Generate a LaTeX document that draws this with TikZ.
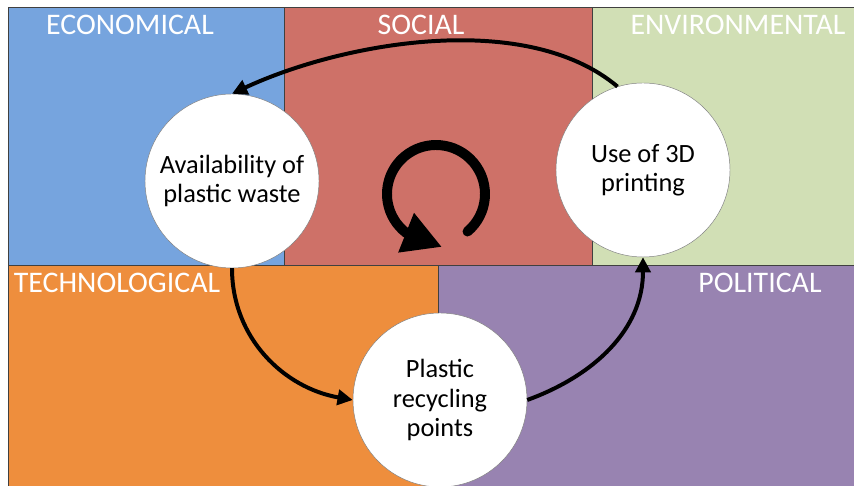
\documentclass[tikz,border=0pt]{standalone}
\usepackage{fontspec}
\setmainfont{Carlito}
\usetikzlibrary{positioning,arrows.meta}

\definecolor{econblue}{RGB}{118,164,222}
\definecolor{socred}{RGB}{206,113,104}
\definecolor{envgreen}{RGB}{209,223,181}
\definecolor{techorange}{RGB}{238,142,61}
\definecolor{polpurple}{RGB}{152,131,177}
\definecolor{edgegray}{RGB}{64,64,64}

\begin{document}
\begin{tikzpicture}[
        x=0.03cm, y=0.03cm,
        area/.style={draw=edgegray, line width=0.7pt},
        title/.style={text=white, font=\fontsize{25.5}{30}\selectfont, inner sep=0pt},
        stage/.style={draw=gray, circle, fill=white, minimum size=5.22cm, inner sep=0pt, align=center, font=\fontsize{22.5}{25}\selectfont},
        flow/.style={-{Triangle[length=13pt, width=13pt]}, line width=3.4pt}
    ]
    \useasboundingbox (0,0) rectangle (854,486);
    % PEST areas
    \fill[white] (0,0) rectangle (854,486);
    \filldraw[area, fill=econblue] (8,221) rectangle (284,479);
    \filldraw[area, fill=socred] (284,221) rectangle (592,479);
    \filldraw[area, fill=envgreen] (592,221) rectangle (854,479);
    \filldraw[area, fill=techorange] (8,0) rectangle (438,221);
    \filldraw[area, fill=polpurple] (438,0) rectangle (854,221);
    \node[title] (econ) at (130,461) {ECONOMICAL};
    \node[title] (soc) at (421,461) {SOCIAL};
    \node[title] (env) at (738,461) {ENVIRONMENTAL};
    \node[title] (tech) at (117,203) {TECHNOLOGICAL};
    \node[title] (pol) at (760,203) {POLITICAL};

    % cycle
    \node[stage] (waste) at (232,305) {Availability of\\plastic waste};
    \node[stage] (printing) at (643,316) {Use of 3D\\printing};
    \node[stage] (points) at (440,86) {Plastic\\recycling\\points};
    \draw[flow] (printing.107) to[out=140, in=25, looseness=0.8] (waste.north);
    \draw[flow] (waste.south) to[out=-90, in=170] (points.west);
    \draw[flow] (points.east) to[out=20, in=-90] (printing.south);

    \coordinate (turn) at (442,239);
    \draw[line width=8.5pt, line cap=round, -{Triangle[length=33pt, width=34pt]}]
        (436,292) ++(-50:49) arc[start angle=-50, end angle=232, radius=49] -- (turn);
\end{tikzpicture}
\end{document}
